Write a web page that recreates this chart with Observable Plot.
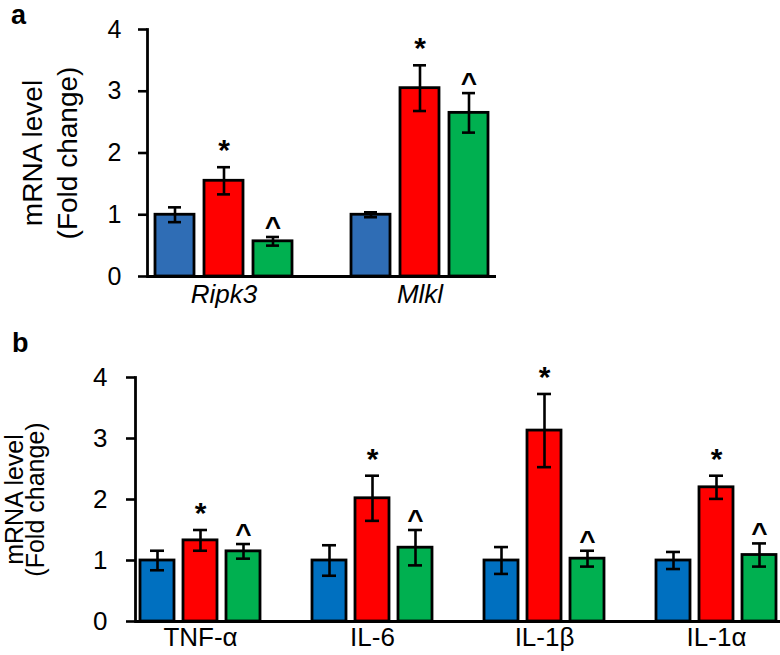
<!DOCTYPE html>
<html><head><meta charset="utf-8">
<script src="https://cdn.jsdelivr.net/npm/d3@7"></script>
<script src="https://cdn.jsdelivr.net/npm/@observablehq/plot@0.6"></script>
<style>
body{margin:0;background:#fff;}
#wrap{position:relative;width:780px;height:655px;font-family:"Liberation Sans",Arial,sans-serif;overflow:hidden;}
.panel{position:absolute;left:0;}
.letter{position:absolute;font-weight:bold;font-size:27px;line-height:normal;}
</style></head><body><div id="wrap"></div>
<script>
// ---- data ----
const conditions = ["Control", "Model", "Treatment"];
const colorsA = ["#2f6db5", "#ff0000", "#00b050"];
const colorsB = ["#0070c0", "#ff0000", "#00b050"];
const sigLabels = ["", "*", "^"];
const yTicks = [0, 1, 2, 3, 4];

const genesA = ["Ripk3", "Mlkl"];
const aControl = [1.00, 1.00];
const aControlErr = [0.12, 0.04];
const aModel = [1.55, 3.05];
const aModelErr = [0.22, 0.37];
const aTreat = [0.57, 2.65];
const aTreatErr = [0.07, 0.32];

const genesB = ["TNF-α", "IL-6", "IL-1β", "IL-1α"];
const bControl = [1.00, 1.00, 1.00, 1.00];
const bControlErr = [0.16, 0.25, 0.22, 0.14];
const bModel = [1.33, 2.02, 3.13, 2.20];
const bModelErr = [0.17, 0.37, 0.60, 0.19];
const bTreat = [1.15, 1.21, 1.03, 1.09];
const bTreatErr = [0.12, 0.29, 0.13, 0.19];

function build(genes, series, errs) {
  const rows = [], domain = [];
  genes.forEach((g, gi) => {
    if (gi > 0) domain.push("gap" + gi);
    conditions.forEach((c, ci) => {
      const key = g + "|" + c;
      domain.push(key);
      rows.push({gene: g, cond: c, key, value: series[ci][gi], err: errs[ci][gi], sig: sigLabels[ci]});
    });
  });
  return {rows, domain};
}

function chart(o) {
  const {rows, domain} = o.data;
  const fmt = k => k.endsWith("|" + conditions[1]) ? k.split("|")[0] : "";
  return Plot.plot({
    width: o.width, height: o.height,
    marginLeft: o.ml, marginRight: o.mr, marginTop: o.mt, marginBottom: o.mb,
    style: {fontFamily: "'Liberation Sans', Arial, sans-serif", fontSize: "22px", color: "black", background: "transparent", overflow: "visible"},
    x: {type: "band", domain, paddingInner: o.pi, paddingOuter: o.po, axis: null},
    y: {domain: [0, 4], axis: null},
    color: {domain: conditions, range: o.colors},
    marks: [
      Plot.barY(rows, {x: "key", y: "value", fill: "cond", stroke: "black", strokeWidth: 2.8}),
      Plot.ruleX(rows, {x: "key", y1: d => d.value - d.err, y2: d => d.value + d.err, stroke: "black", strokeWidth: 2.6}),
      Plot.tickY(rows, {x: "key", y: d => d.value + d.err, stroke: "black", strokeWidth: 2.6, insetLeft: o.cap, insetRight: o.cap}),
      Plot.tickY(rows, {x: "key", y: d => d.value - d.err, stroke: "black", strokeWidth: 2.6, insetLeft: o.cap, insetRight: o.cap}),
      Plot.text(rows.filter(d => d.sig === "*"), {x: "key", y: d => d.value + d.err, text: "sig", lineAnchor: "bottom", dy: -7, fontSize: 30, fontWeight: "bold"}),
      Plot.text(rows.filter(d => d.sig === "^"), {x: "key", y: d => d.value + d.err, text: "sig", lineAnchor: "bottom", dy: -1, fontSize: 28, fontWeight: "bold"}),
      Plot.ruleY([0], {stroke: "black", strokeWidth: 2.8}),
      Plot.frame({anchor: "left", stroke: "black", strokeWidth: 2.8}),
      Plot.axisY({ticks: yTicks, tickFormat: d => String(d), tickSize: 9, tickPadding: o.tp, strokeWidth: 2.6, fontSize: o.yfs, label: null}),
      Plot.axisX({tickSize: 0, tickPadding: o.xtp, tickFormat: fmt, fontSize: 26, fontStyle: o.xstyle, label: null}),
      Plot.text(["mRNA level\n(Fold change)"], {frameAnchor: "left", rotate: -90, textAnchor: "middle", lineAnchor: "middle", dx: o.tdx, fontSize: o.tfs, lineHeight: o.lh})
    ]
  });
}

const wrap = document.getElementById("wrap");

const svgA = chart({
  data: build(genesA, [aControl, aModel, aTreat], [aControlErr, aModelErr, aTreatErr]),
  width: 500, height: 312, ml: 147, mr: 4, mt: 29, mb: 36,
  pi: 0.2, po: 0.1, cap: 13, colors: colorsA, tp: 17, yfs: 25, xtp: 8, xstyle: "italic",
  tdx: -99, lh: 1.25, tfs: 28
});
svgA.classList.add("panel");
svgA.style.top = "0px";
wrap.appendChild(svgA);

const svgB = chart({
  data: build(genesB, [bControl, bModel, bTreat], [bControlErr, bModelErr, bTreatErr]),
  width: 780, height: 330, ml: 135, mr: 0, mt: 52, mb: 34,
  pi: 0.21, po: 0.093, cap: 10, colors: colorsB, tp: 19, yfs: 26, xtp: 6, xstyle: "normal",
  tdx: -109, lh: 0.86, tfs: 25
});
svgB.classList.add("panel");
svgB.style.top = "325px";
wrap.appendChild(svgB);

const la = document.createElement("div");
la.className = "letter"; la.textContent = "a";
la.style.left = "11px"; la.style.top = "0px";
wrap.appendChild(la);
const lb = document.createElement("div");
lb.className = "letter"; lb.textContent = "b";
lb.style.left = "12px"; lb.style.top = "328px";
wrap.appendChild(lb);
</script></body></html>
